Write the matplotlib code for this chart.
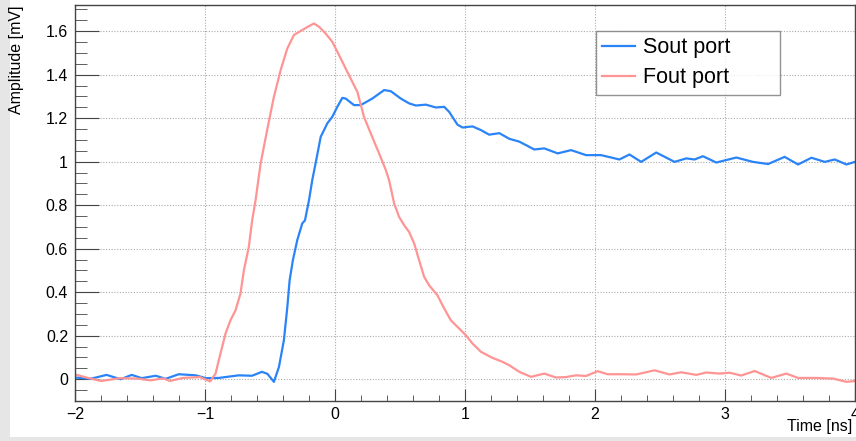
import numpy as np
import matplotlib
matplotlib.use('Agg')
import matplotlib.pyplot as plt
from matplotlib.patches import Rectangle
from matplotlib.ticker import MultipleLocator

plt.rcParams['font.family'] = ['Liberation Sans', 'DejaVu Sans']

# Sout port waveform (time in ns, amplitude in mV)
t_sout = [-2.00, -1.88, -1.757, -1.649, -1.564, -1.487, -1.379, -1.302, -1.202, -1.071,
          -0.994, -0.894, -0.740, -0.639, -0.562, -0.52, -0.470, -0.431, -0.393, -0.367,
          -0.349, -0.324, -0.290, -0.252, -0.231, -0.200, -0.175, -0.149, -0.110, -0.059,
          -0.021, 0.018, 0.056, 0.082, 0.146, 0.198, 0.287, 0.378, 0.429, 0.506,
          0.570, 0.622, 0.699, 0.776, 0.840, 0.878, 0.942, 0.981, 1.058, 1.123,
          1.186, 1.264, 1.341, 1.418, 1.533, 1.610, 1.713, 1.816, 1.931, 2.047,
          2.188, 2.265, 2.355, 2.471, 2.612, 2.702, 2.766, 2.830, 2.933, 3.087,
          3.215, 3.331, 3.459, 3.562, 3.665, 3.767, 3.844, 3.934, 4.000]
a_sout = [0.008, 0.002, 0.020, 0.000, 0.020, 0.005, 0.016, 0.002, 0.023, 0.018,
          0.005, 0.006, 0.018, 0.016, 0.034, 0.025, -0.012, 0.057, 0.180, 0.330,
          0.455, 0.547, 0.640, 0.716, 0.730, 0.823, 0.915, 0.993, 1.114, 1.176,
          1.206, 1.252, 1.293, 1.290, 1.260, 1.260, 1.290, 1.329, 1.324, 1.290,
          1.268, 1.258, 1.262, 1.249, 1.252, 1.229, 1.170, 1.157, 1.162, 1.145,
          1.124, 1.131, 1.105, 1.092, 1.056, 1.061, 1.038, 1.053, 1.030, 1.030,
          1.010, 1.033, 0.999, 1.042, 0.999, 1.015, 1.010, 1.025, 0.996, 1.019,
          0.999, 0.989, 1.022, 0.987, 1.018, 0.999, 1.010, 0.987, 0.999]

# Fout port waveform
t_fout = [-2.00, -1.90, -1.80, -1.65, -1.52, -1.42, -1.32, -1.27, -1.17, -1.04,
          -0.96, -0.919, -0.881, -0.842, -0.804, -0.765, -0.727, -0.701, -0.663, -0.637,
          -0.611, -0.572, -0.522, -0.470, -0.418, -0.367, -0.316, -0.252, -0.200, -0.162,
          -0.123, -0.072, -0.021, 0.031, 0.082, 0.133, 0.172, 0.223, 0.275, 0.339,
          0.391, 0.416, 0.455, 0.493, 0.532, 0.570, 0.609, 0.647, 0.686, 0.724,
          0.788, 0.840, 0.891, 0.955, 1.007, 1.058, 1.123, 1.212, 1.289, 1.341,
          1.418, 1.508, 1.610, 1.700, 1.777, 1.854, 1.931, 2.021, 2.098, 2.188,
          2.317, 2.458, 2.573, 2.663, 2.779, 2.856, 2.958, 3.035, 3.125, 3.228,
          3.356, 3.472, 3.562, 3.703, 3.831, 3.934, 4.000]
a_fout = [0.022, 0.006, -0.008, 0.005, 0.003, -0.005, 0.004, -0.008, 0.006, 0.010,
          -0.010, 0.026, 0.118, 0.210, 0.271, 0.317, 0.394, 0.501, 0.608, 0.731,
          0.823, 0.992, 1.145, 1.298, 1.421, 1.520, 1.582, 1.605, 1.623, 1.635,
          1.620, 1.589, 1.551, 1.490, 1.428, 1.367, 1.321, 1.206, 1.130, 1.038,
          0.961, 0.915, 0.808, 0.746, 0.708, 0.677, 0.624, 0.547, 0.470, 0.432,
          0.386, 0.325, 0.271, 0.233, 0.202, 0.164, 0.126, 0.098, 0.080, 0.064,
          0.034, 0.011, 0.026, 0.008, 0.010, 0.018, 0.015, 0.037, 0.023, 0.023,
          0.022, 0.041, 0.022, 0.032, 0.020, 0.031, 0.026, 0.030, 0.017, 0.038,
          0.006, 0.026, 0.006, 0.006, 0.003, -0.012, -0.008]

W, H = 856, 441
fig = plt.figure(figsize=(W / 100, H / 100), dpi=100, facecolor='#e6e6e6')
# white pad area like a ROOT canvas
fig.patches.append(Rectangle((10 / W, 4 / H), 1 - 10 / W, 1 - 4 / H,
                             transform=fig.transFigure, facecolor='white',
                             edgecolor='none', zorder=-5))

ax = fig.add_axes([75 / W, 40 / H, 780 / W, 396 / H])
ax.set_facecolor('white')

ax.plot(t_sout, a_sout, color='#2a84f8', lw=1.6, label='Sout port',
        solid_joinstyle='round')
ax.plot(t_fout, a_fout, color='#ff9494', lw=1.6, label='Fout port',
        solid_joinstyle='round')

ax.set_xlim(-2, 4)
ax.set_ylim(-0.1, 1.72)
ax.xaxis.set_minor_locator(MultipleLocator(0.2))
ax.yaxis.set_minor_locator(MultipleLocator(0.05))
ax.set_yticks([0, 0.2, 0.4, 0.6, 0.8, 1.0, 1.2, 1.4, 1.6])
ax.set_yticklabels(['0', '0.2', '0.4', '0.6', '0.8', '1', '1.2', '1.4', '1.6'])
ax.set_xticks([-2, -1, 0, 1, 2, 3, 4])
ax.set_xticklabels(['\u22122', '\u22121', '0', '1', '2', '3', '4'])

ax.tick_params(which='both', direction='in', color='#444', labelsize=11.5)
ax.tick_params(axis='y', which='major', length=17, pad=5)
ax.tick_params(axis='y', which='minor', length=8.5)
ax.tick_params(axis='x', which='major', length=8.5, pad=4)
ax.tick_params(axis='x', which='minor', length=4.3)

ax.grid(True, which='major', color='#aaaaaa', lw=0.8, ls=(0, (1, 1.5)))
ax.set_axisbelow(True)
for s in ax.spines.values():
    s.set_color('#444')
    s.set_linewidth(1.0)

fig.text(17 / W, 1 - 5 / H, 'Amplitude [mV]', rotation=90, ha='center', va='top',
         fontsize=11.5)
fig.text(852 / W, 1 - 427 / H, 'Time [ns]', ha='right', va='center', fontsize=11.5)

leg = ax.legend(loc='upper left', bbox_to_anchor=(0.668, 0.78, 0.236, 0.155),
                mode='expand', fontsize=15.5, frameon=True, fancybox=False,
                borderpad=0.3, handlelength=1.5, handletextpad=0.4,
                labelspacing=0.42, borderaxespad=0)
leg.get_frame().set_edgecolor('#777')
leg.get_frame().set_linewidth(1.0)

fig.savefig('out.png', dpi=100, facecolor=fig.get_facecolor())
